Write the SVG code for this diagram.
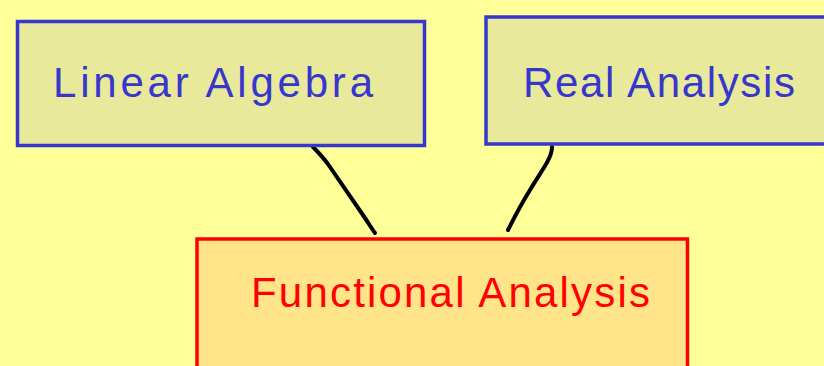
<svg xmlns="http://www.w3.org/2000/svg" width="824" height="366" viewBox="0 0 824 366">
<style>
.top rect{fill:#e9e99c;stroke:#3737cc;stroke-width:3.5}
.top text{fill:#3737cc}
.bot rect{fill:#ffe48a;stroke:#ff0000;stroke-width:3.5}
.bot text{fill:#ff0000}
text{font-family:"Liberation Sans",Arial,sans-serif;font-size:42px}
.conn path{fill:none;stroke:#000;stroke-width:4;stroke-linecap:round}
</style>
<rect width="824" height="366" fill="#ffff99"/>
<g class="conn" id="connectors">
<path d="M313,147 C318,152 324,158 330,167 L365,218 C369,224 372,229 375,233"/>
<path d="M552,147 C552,158 542,170 530,190 C520,206 514,218 508,230"/>
</g>
<g id="linear-algebra" class="top">
<rect x="17.5" y="21.5" width="407" height="124"/>
<text x="53" y="97" textLength="320" lengthAdjust="spacing">Linear Algebra</text>
</g>
<g id="real-analysis" class="top">
<rect x="486" y="17" width="400" height="127"/>
<text x="523" y="97" textLength="272" lengthAdjust="spacing">Real Analysis</text>
</g>
<g id="functional-analysis" class="bot">
<rect x="197" y="239" width="490.5" height="140"/>
<text x="251" y="307" textLength="399" lengthAdjust="spacing">Functional Analysis</text>
</g>
</svg>
